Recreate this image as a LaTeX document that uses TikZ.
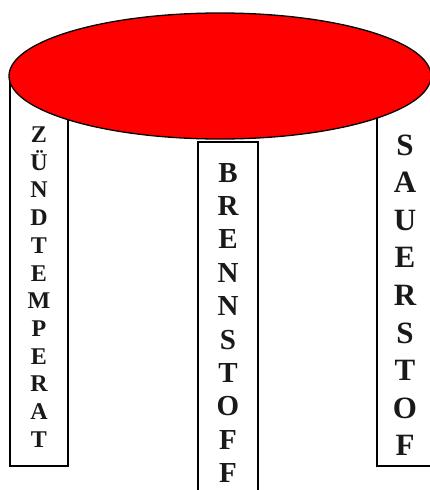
\documentclass[tikz,border=0pt]{standalone}
\usepackage{fontspec}
\setmainfont{Liberation Serif}
\tikzset{
  pillar/.style={draw=black, fill=white, line width=1.3pt},
  disc/.style={draw=black, fill=red, line width=1.3pt},
  lettL/.style={anchor=base, inner sep=0pt, font=\fontsize{24}{24}\selectfont\bfseries, text=black!90},
  lettM/.style={anchor=base, inner sep=0pt, font=\fontsize{29}{29}\selectfont\bfseries, text=black!90},
  lettR/.style={anchor=base, inner sep=0pt, font=\fontsize{31}{31}\selectfont\bfseries, text=black!90}
}
\begin{document}
\begin{tikzpicture}[x=1pt,y=-1pt]
\useasboundingbox (0,0) rectangle (430,490);
\clip (0,0) rectangle (430,490);
% pillars
\draw[pillar] (10,76) rectangle (68,466);
\draw[pillar] (198,142) rectangle (258,500);
\draw[pillar, fill=none] (377,110) -- (377,466) -- (445,466);
% top disc
\draw[disc] (220,76) ellipse [x radius=211, y radius=63];
% left letters
\foreach \c [count=\i from 0] in {Z,Ü,N,D,T,E,M,P,E,R,A,T}
  \node[lettL] (l\i) at (39,142.5+27.7*\i) {\c};
% middle letters
\foreach \c [count=\i from 0] in {B,R,E,N,N,S,T,O,F,F}
  \node[lettM] (m\i) at (228,182+33.4*\i) {\c};
% right letters
\foreach \c [count=\i from 0] in {S,A,U,E,R,S,T,O,F}
  \node[lettR] (r\i) at (405,155+37.6*\i) {\c};
\end{tikzpicture}
\end{document}
